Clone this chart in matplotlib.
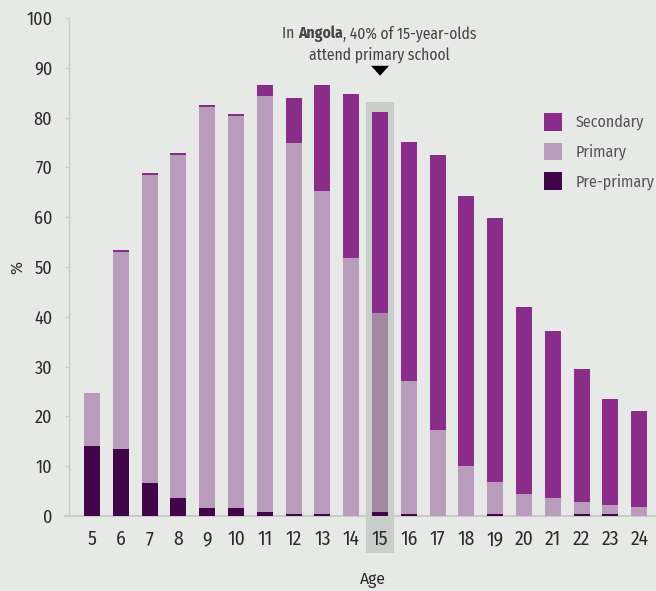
import matplotlib
matplotlib.use("Agg")
import matplotlib.pyplot as plt
from matplotlib import font_manager as fm
from matplotlib.patches import Patch, Rectangle, Polygon

# Share of young people in Angola attending school, by age and level (%)
ages = [5, 6, 7, 8, 9, 10, 11, 12, 13, 14, 15, 16, 17, 18, 19, 20, 21, 22, 23, 24]
pre_primary = [14.0, 13.4, 6.6, 3.6, 1.6, 1.6, 0.8, 0.4, 0.4, 0.0,
               0.8, 0.4, 0.0, 0.0, 0.4, 0.0, 0.0, 0.4, 0.4, 0.0]
primary = [10.7, 39.6, 61.9, 68.9, 80.5, 78.7, 83.5, 74.5, 64.9, 51.8,
           40.0, 26.7, 17.3, 10.0, 6.4, 4.4, 3.6, 2.4, 1.8, 1.8]
secondary = [0.0, 0.4, 0.4, 0.4, 0.4, 0.4, 2.2, 9.0, 21.2, 32.9,
             40.3, 48.0, 55.2, 54.3, 53.0, 37.6, 33.5, 26.7, 21.3, 19.3]
highlight_age = 15
legend_labels = ["Secondary", "Primary", "Pre-primary"]
y_ticks = list(range(0, 101, 10))

BG = "#e7e9e6"
C_SEC = "#8a2c89"
C_PRI = "#b99bbc"
C_PRI_HL = "#a3889f"
C_PRE = "#42054a"
C_BOX = "#c8cfca"
C_AXIS = "#c9cbc9"

names = {f.name for f in fm.fontManager.ttflist}
FONT = "DejaVu Sans"
for cand in ["Fira Sans Condensed", "Roboto Condensed", "IBM Plex Sans Condensed",
             "Sofia Sans Condensed", "Barlow Semi Condensed"]:
    if cand in names:
        FONT = cand
        break
plt.rcParams["font.family"] = [FONT, "DejaVu Sans"]

fig = plt.figure(figsize=(6.56, 5.91), dpi=100, facecolor=BG)
ax = fig.add_axes([69 / 656, 75 / 591, 1 - 69 / 656, 498 / 591])
ax.set_facecolor(BG)

# highlight column behind the 15-year-olds
ax.add_patch(Rectangle((highlight_age - 0.5, -7.4), 1.0, 83.1 + 7.4,
                       facecolor=C_BOX, edgecolor="none", zorder=1.5,
                       clip_on=False))

width = 0.556
pri_colors = [C_PRI_HL if a == highlight_age else C_PRI for a in ages]
bottom_sec = [p + q for p, q in zip(pre_primary, primary)]
ax.bar(ages, pre_primary, width, color=C_PRE, zorder=2)
ax.bar(ages, primary, width, bottom=pre_primary, color=pri_colors, zorder=2)
ax.bar(ages, secondary, width, bottom=bottom_sec, color=C_SEC, zorder=2)

ax.set_xlim(4.2, 24.58)
ax.set_ylim(0, 100)
ax.set_xticks(ages)
ax.set_xticklabels([str(a) for a in ages])
ax.set_yticks(y_ticks)

for s in ["top", "right", "bottom"]:
    ax.spines[s].set_visible(False)
ax.spines["left"].set_color(C_AXIS)
ax.spines["left"].set_linewidth(1.0)
ax.axhline(0, xmin=-0.007, xmax=1, color=C_AXIS, lw=1.5, zorder=1, clip_on=False)

ax.tick_params(axis="y", length=3, width=1, color=C_AXIS, pad=9,
               labelsize=13, labelcolor="#2b2b2b")
ax.tick_params(axis="x", length=0, pad=10, labelsize=14, labelcolor="#2b2b2b")

fig.text(17 / 656, 1 - 268 / 591, "%", rotation=90, ha="center", va="center",
         fontsize=12.5, color="#2b2b2b")
fig.text(373 / 656, 1 - 580 / 591, "Age", ha="center", va="center",
         fontsize=12.5, color="#2b2b2b")

# annotation above the highlighted column
fig.canvas.draw()
renderer = fig.canvas.get_renderer()
W, H = fig.bbox.width, fig.bbox.height
cx = ax.transData.transform((highlight_age, 0))[0] - 1
parts = [("In ", "normal"), ("Angola", "bold"), (", 40% of 15-year-olds", "normal")]
texts = [fig.text(0, 0, s, fontweight=w, fontsize=11.2, color="#444444",
                  ha="left", va="baseline") for s, w in parts]
widths = [t.get_window_extent(renderer).width for t in texts]
x0 = cx - sum(widths) / 2
for t, w in zip(texts, widths):
    t.set_position((x0 / W, (H - 38) / H))
    x0 += w
fig.text(cx / W, (H - 59) / H, "attend primary school", fontsize=11.2,
         color="#444444", ha="center", va="baseline")

ax.add_patch(Polygon([(highlight_age - 0.31, 90.4), (highlight_age + 0.31, 90.4),
                      (highlight_age, 88.4)], closed=True, facecolor="black",
                     edgecolor="none", clip_on=False, zorder=3))

handles = [Patch(facecolor=c, edgecolor="none") for c in (C_SEC, C_PRI, C_PRE)]
leg = fig.legend(handles, legend_labels, loc="upper left",
                 bbox_to_anchor=(544 / 656, 1 - 113 / 591), frameon=False,
                 fontsize=11.5, handlelength=1.1, handleheight=1.33,
                 handletextpad=0.9, labelspacing=0.75, borderpad=0,
                 borderaxespad=0)
for t in leg.get_texts():
    t.set_color("#555555")

fig.savefig("out.png", dpi=100, facecolor=BG)
